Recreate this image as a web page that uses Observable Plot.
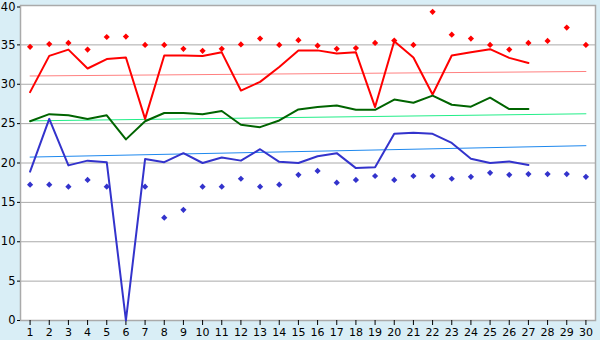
<!DOCTYPE html>
<html><head><meta charset="utf-8">
<script src="https://cdn.jsdelivr.net/npm/d3@7"></script>
<script src="https://cdn.jsdelivr.net/npm/@observablehq/plot@0.6"></script>
<style>
html,body{margin:0;padding:0;background:#d9eef6;}
</style></head>
<body><div id="chart"></div>
<script>
const days = d3.range(1, 31);
const lineDays = d3.range(1, 28);
const redLine = [29.0,33.6,34.4,32.0,33.2,33.4,25.6,33.65,33.65,33.6,34.05,29.2,30.3,32.2,34.3,34.3,33.9,34.05,27.1,35.45,33.4,28.7,33.65,34.05,34.45,33.35,32.7];
const redPts = [34.75,35.1,35.25,34.4,36.0,36.05,35.0,35.0,34.5,34.25,34.5,35.05,35.8,35.0,35.6,34.9,34.5,34.6,35.25,35.55,35.0,39.2,36.3,35.8,35.0,34.4,35.25,35.5,37.2,35.0];
const greenLine = [25.3,26.2,26.05,25.6,26.05,23.0,25.3,26.35,26.35,26.2,26.6,24.85,24.55,25.4,26.8,27.1,27.3,26.75,26.75,28.05,27.65,28.55,27.4,27.15,28.3,26.85,26.85];
const blueLine = [18.9,25.6,19.7,20.3,20.1,0,20.5,20.1,21.25,20.0,20.7,20.3,21.75,20.15,20.0,20.85,21.25,19.35,19.45,23.7,23.85,23.7,22.55,20.55,20.0,20.2,19.75];
const bluePts = [17.25,17.25,17.0,17.85,17.0,null,17.0,13.05,14.05,17.0,17.0,18.0,17.0,17.25,18.5,19.0,17.5,17.85,18.35,17.85,18.35,18.35,18.0,18.25,18.75,18.5,18.6,18.6,18.6,18.25];
const trendDays = [1, 30];
const redTrend = [31.05, 31.62];
const greenTrend = [25.35, 26.25];
const blueTrend = [20.75, 22.2];
const yTicks = [0,5,10,15,20,25,30,35];
const yTop = [40];
const gridY = [5,10,15,20,25,30,35];

const mk = (xs, ys) => xs.map((d, i) => ({x: d, y: ys[i]})).filter(d => d.y != null);

const chart = Plot.plot({
  width: 600, height: 340,
  marginLeft: 20, marginRight: 5, marginTop: 5, marginBottom: 20,
  style: {background: "#d9eef6", fontFamily: "DejaVu Sans, sans-serif", fontSize: "11px", color: "#000"},
  x: {type: "linear", domain: [0.5, 30.5]},
  y: {domain: [0, 40]},
  marks: [
    Plot.frame({fill: "white", stroke: "none"}),
    Plot.ruleY(gridY, {stroke: "#aaaaaa", strokeWidth: 1}),
    Plot.frame({stroke: "#aaaaaa", strokeWidth: 1.5}),
    Plot.axisY(yTicks, {tickSize: 3, tickPadding: 2, fontSize: 11.5, stroke: "#000", label: null}),
    Plot.axisY(yTop, {tickSize: 3, tickPadding: 2, fontSize: 11.5, stroke: "#000", label: null, dy: 1.5}),
    Plot.axisX(days, {tickSize: 5, tickPadding: 3, fontSize: 11, stroke: "#000", label: null, tickFormat: d => d}),
    Plot.line(mk(trendDays, redTrend), {x: "x", y: "y", stroke: "#ff8080", strokeWidth: 1}),
    Plot.line(mk(trendDays, greenTrend), {x: "x", y: "y", stroke: "#22ee88", strokeWidth: 1}),
    Plot.line(mk(trendDays, blueTrend), {x: "x", y: "y", stroke: "#1e88ee", strokeWidth: 1}),
    Plot.line(mk(lineDays, redLine), {x: "x", y: "y", stroke: "#ff0000", strokeWidth: 2}),
    Plot.line(mk(lineDays, greenLine), {x: "x", y: "y", stroke: "#006400", strokeWidth: 2}),
    Plot.line(mk(lineDays, blueLine), {x: "x", y: "y", stroke: "#3333cc", strokeWidth: 2}),
    Plot.dot(mk(days, redPts), {x: "x", y: "y", symbol: "diamond2", r: 2.8, fill: "#ff0000", stroke: "none"}),
    Plot.dot(mk(days, bluePts), {x: "x", y: "y", symbol: "diamond2", r: 2.8, fill: "#3333cc", stroke: "none"})
  ]
});
document.getElementById("chart").append(chart);
</script></body></html>
